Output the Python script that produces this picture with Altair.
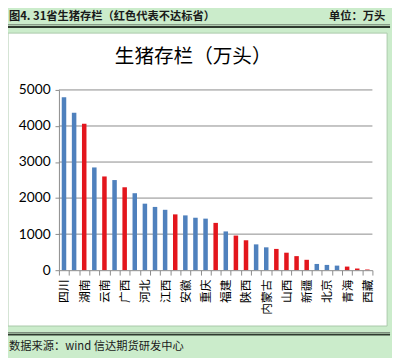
import altair as alt
import pandas as pd

provinces = ['四川', '河南', '湖南', '山东', '云南', '湖北', '广西', '广东', '河北', '贵州',
             '江西', '辽宁', '安徽', '江苏', '重庆', '黑龙江', '福建', '吉林', '陕西', '浙江',
             '内蒙古', '甘肃', '山西', '海南', '新疆', '宁夏', '北京', '天津', '青海', '上海', '西藏']
stock = [4800, 4370, 4060, 2850, 2600, 2500, 2300, 2135, 1845, 1755,
         1675, 1548, 1520, 1455, 1430, 1312, 1075, 960, 830, 716,
         634, 590, 485, 390, 288, 173, 146, 127, 100, 46, 19]
below_target = [0, 0, 1, 0, 1, 0, 1, 0, 0, 0,
                0, 1, 0, 0, 0, 1, 0, 1, 1, 0,
                0, 1, 1, 1, 1, 0, 0, 0, 1, 1, 1]
shown_labels = provinces[::2]
y_ticks = [0, 1000, 2000, 3000, 4000, 5000]

header_left = "图4. 31省生猪存栏（红色代表不达标省）"
header_right = "单位：万头"
chart_title = "生猪存栏（万头）"
source_text = "数据来源：wind  信达期货研发中心"

df = pd.DataFrame({
    "province": provinces,
    "stock": stock,
    "status": ["不达标" if b else "达标" for b in below_target],
})
one = pd.DataFrame({"k": [0]})
grid_df = pd.DataFrame({"v": y_ticks[1:]})

CJK = "Noto Sans CJK SC"
BG = "#cbeccb"
W, H = 320, 184

yscale = alt.Scale(domain=[0, 5000], nice=False)
y_axis = alt.Axis(title=None, values=y_ticks, format="d", grid=False, zindex=1,
                  labelFont="Lato", labelFontSize=14, labelColor="black",
                  tickSize=4, labelPadding=5, domainColor="#8a8a8a", tickColor="#8a8a8a")

label_list = ",".join("'%s'" % p for p in shown_labels)
x_axis = alt.Axis(title=None, zindex=1,
                  labelExpr="indexof([" + label_list + "], datum.value) >= 0 ? datum.label : ''",
                  labelAngle=-90, labelFont=CJK, labelFontSize=12,
                  labelBaseline="middle", labelAlign="right", labelPadding=4, labelColor="black",
                  labelOverlap=False, tickSize=5, tickBand="extent",
                  domainColor="#8a8a8a", tickColor="#8a8a8a")

box = alt.Chart(one).mark_rect(fill="white", stroke="#a9c9a9", strokeWidth=1).encode(
    x=alt.value(-52), x2=alt.value(335), y=alt.value(-58), y2=alt.value(241))

hl1 = alt.Chart(one).mark_rule(color="#6a786a", strokeWidth=1).encode(
    x=alt.value(-54), x2=alt.value(338), y=alt.value(-66.5))
hl2 = alt.Chart(one).mark_rule(color="#2e3a2e", strokeWidth=2).encode(
    x=alt.value(-54), x2=alt.value(338), y=alt.value(-64.2))
bl1 = alt.Chart(one).mark_rule(color="#6a786a", strokeWidth=1).encode(
    x=alt.value(-54), x2=alt.value(338), y=alt.value(247.8))
bl2 = alt.Chart(one).mark_rule(color="#2e3a2e", strokeWidth=2).encode(
    x=alt.value(-54), x2=alt.value(338), y=alt.value(249.8))

t_left = alt.Chart(one).mark_text(font=CJK, fontSize=11.5, fontWeight="bold", align="left",
                                  baseline="middle", color="#1a1a1a").encode(
    x=alt.value(-51), y=alt.value(-74), text=alt.value(header_left))
t_right = alt.Chart(one).mark_text(font=CJK, fontSize=11.5, fontWeight="bold", align="right",
                                   baseline="middle", color="#1a1a1a").encode(
    x=alt.value(333), y=alt.value(-74), text=alt.value(header_right))
t_title = alt.Chart(one).mark_text(font=CJK, fontSize=20, align="center",
                                   baseline="middle", color="black").encode(
    x=alt.value(137), y=alt.value(-34), text=alt.value(chart_title))
t_src = alt.Chart(one).mark_text(font=CJK, fontSize=11.5, align="left",
                                 baseline="middle", color="#1a1a1a").encode(
    x=alt.value(-51), y=alt.value(262), text=alt.value(source_text))

grid = alt.Chart(grid_df).mark_rule(color="#8a8a8a", strokeWidth=1).encode(
    y=alt.Y("v:Q", scale=yscale, axis=y_axis), x=alt.value(0), x2=alt.value(W))

bars = alt.Chart(df).mark_bar(width=4.6).encode(
    x=alt.X("province:N", sort=provinces, scale=alt.Scale(paddingInner=0, paddingOuter=0), axis=x_axis),
    y=alt.Y("stock:Q", scale=yscale, axis=y_axis),
    color=alt.Color("status:N", scale=alt.Scale(domain=["达标", "不达标"], range=["#4f81bd", "#e3161d"]),
                    legend=None),
)

chart = alt.layer(box, hl1, hl2, bl1, bl2, t_left, t_right, t_title, t_src, grid, bars).properties(
    width=W, height=H,
    autosize=alt.AutoSizeParams(type="none"),
    padding={"left": 52, "top": 80, "right": 20, "bottom": 86},
).configure(background=BG).configure_view(stroke=None)

chart.save("out.html", embed_options={"renderer": "svg", "actions": False})
